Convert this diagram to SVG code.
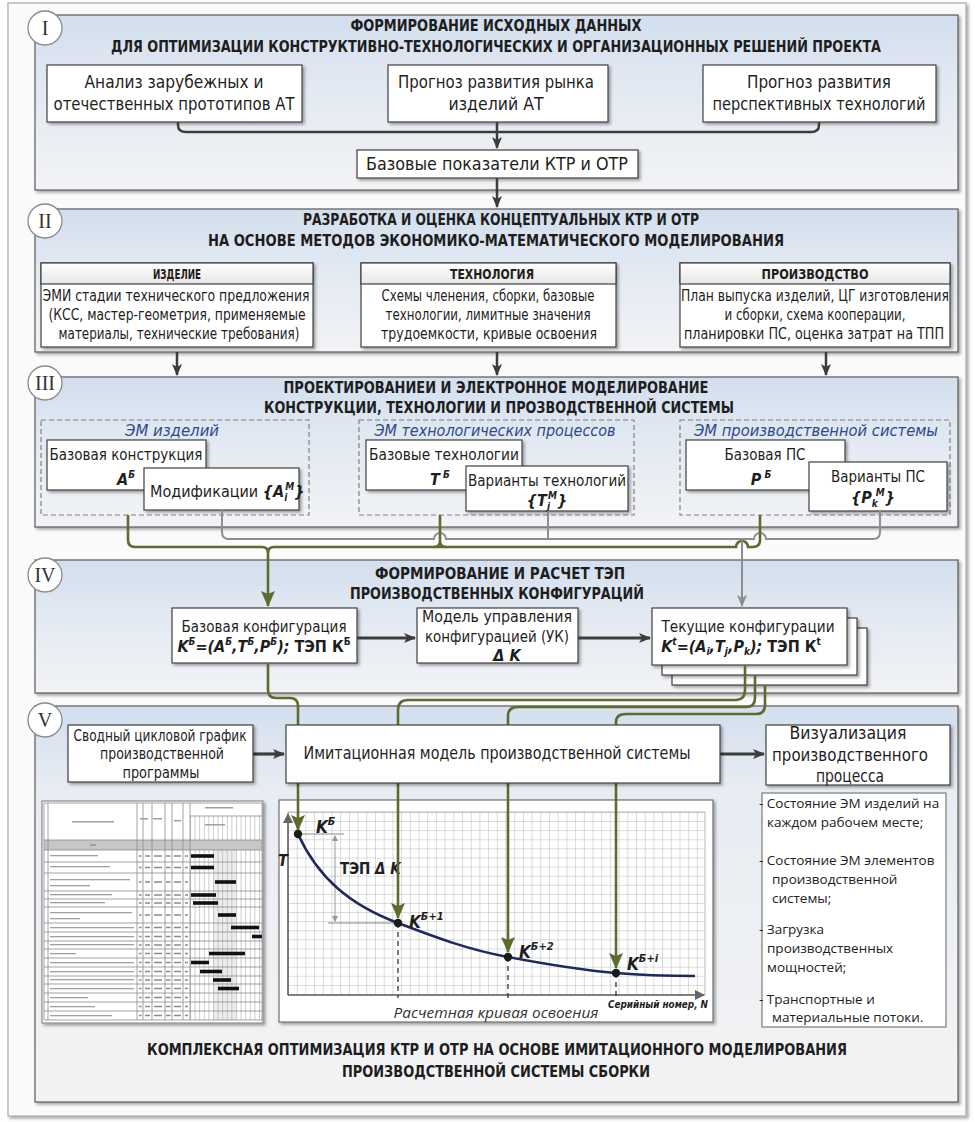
<svg xmlns="http://www.w3.org/2000/svg" width="975" height="1122" viewBox="0 0 975 1122">
<defs>
<linearGradient id="pg" x1="0" y1="0" x2="0" y2="1"><stop offset="0" stop-color="#d3dfee"/><stop offset="0.5" stop-color="#e5ebf3"/><stop offset="1" stop-color="#f2f3f5"/></linearGradient>
<linearGradient id="pg5" x1="0" y1="0" x2="0" y2="1"><stop offset="0" stop-color="#d3dfee"/><stop offset="0.22" stop-color="#e8edf3"/><stop offset="1" stop-color="#f3f3f4"/></linearGradient>
<linearGradient id="hg" x1="0" y1="0" x2="0" y2="1"><stop offset="0" stop-color="#ffffff"/><stop offset="1" stop-color="#e6e6e6"/></linearGradient>
<filter id="sh" x="-5%" y="-5%" width="115%" height="125%"><feDropShadow dx="2" dy="2" stdDeviation="1.4" flood-color="#000" flood-opacity="0.35"/></filter>
<pattern id="grid" width="8.7" height="9.1" patternUnits="userSpaceOnUse" x="288" y="812"><path d="M0,0V9.1M0,0H8.7" stroke="#9c9c9c" stroke-width="0.7" fill="none"/></pattern>
<pattern id="gg" width="4.6" height="10" patternUnits="userSpaceOnUse" x="190" y="0"><path d="M0.3,0V10" stroke="#b0b0b0" stroke-width="0.8" fill="none"/></pattern>
<marker id="ad" markerWidth="12" markerHeight="12" refX="11" refY="6" orient="auto" markerUnits="userSpaceOnUse"><path d="M0,1 L12,6 L0,11 L3,6 z" fill="#3c3c3c"/></marker>
<marker id="ag" markerWidth="16" markerHeight="14" refX="15" refY="7" orient="auto" markerUnits="userSpaceOnUse"><path d="M0,0 L16,7 L0,14 L3,7 z" fill="#5d6b2f"/></marker>
<marker id="ay" markerWidth="12" markerHeight="12" refX="11" refY="6" orient="auto" markerUnits="userSpaceOnUse"><path d="M0,1 L12,6 L0,11 L3,6 z" fill="#8e8e8e"/></marker>
<marker id="ax" markerWidth="10" markerHeight="10" refX="9" refY="5" orient="auto" markerUnits="userSpaceOnUse"><path d="M0,0 L10,5 L0,10 z" fill="#666"/></marker>
<marker id="am" markerWidth="6" markerHeight="6" refX="5" refY="3" orient="auto-start-reverse" markerUnits="userSpaceOnUse"><path d="M0,0 L6,3 L0,6 z" fill="#999"/></marker>
<path id="rm" d="M139,0h2.5M145,0h5M154,0h8M166,0h4.5M174,0h7M185,0h3" stroke="#8a8a8a" stroke-width="1.3" fill="none"/>
</defs>
<style>
.tx{font-family:"Liberation Sans Narrow","DejaVu Sans Condensed","Liberation Sans",Arial,sans-serif;fill:#1e1e1e}
.hd{font-weight:bold;font-size:15px}
.c{text-anchor:middle}
.bx{fill:#fff;stroke:#404040;stroke-width:1.2;filter:url(#sh)}
.pn{stroke:#5a5a5a;stroke-width:1.2;filter:url(#sh)}
.rc{fill:#fff;stroke:#8a8a8a;stroke-width:1.3}
.rt{font-family:"Liberation Serif",serif;font-size:20px;fill:#333;text-anchor:middle}
.dk{fill:none;stroke:#3c3c3c;stroke-width:2.5}
.dk3{fill:none;stroke:#3c3c3c;stroke-width:3.2}
.gr{fill:none;stroke:#5d6b2f;stroke-width:2.6}
.gy{fill:none;stroke:#8e8e8e;stroke-width:2}
.ds{fill:none;stroke:#808080;stroke-dasharray:5 3;stroke-width:1.2}
.f{font-weight:bold;font-style:italic}
.em{font-family:"Liberation Sans Narrow","DejaVu Sans Condensed","Liberation Sans",sans-serif;font-style:italic;font-size:16px;fill:#2f4a88;text-anchor:middle}
.ls{font-family:"Open Sans","Noto Sans",sans-serif;font-size:13.5px;fill:#222}
</style>

<rect x="8" y="3" width="958" height="1113" fill="#fafafa" stroke="#a8a8a8" stroke-width="1.2" filter="url(#sh)"/>

<!-- Section panels -->
<g id="panel-I"><rect class="pn" x="35" y="15" width="923" height="175" fill="url(#pg)"/>
<circle class="rc" cx="45" cy="28" r="17"/><text class="rt" x="45" y="35">I</text>
<text class="tx hd c" x="496" y="31" textLength="291" lengthAdjust="spacingAndGlyphs">ФОРМИРОВАНИЕ ИСХОДНЫХ ДАННЫХ</text>
<text class="tx hd c" x="496" y="52" textLength="770" lengthAdjust="spacingAndGlyphs">ДЛЯ ОПТИМИЗАЦИИ КОНСТРУКТИВНО-ТЕХНОЛОГИЧЕСКИХ И ОРГАНИЗАЦИОННЫХ РЕШЕНИЙ ПРОЕКТА</text></g>

<g id="panel-II"><rect class="pn" x="35" y="209" width="923" height="143" fill="url(#pg)"/>
<circle class="rc" cx="45" cy="221" r="17"/><text class="rt" x="45" y="228">II</text>
<text class="tx hd c" x="501" y="225" textLength="396" lengthAdjust="spacingAndGlyphs">РАЗРАБОТКА И ОЦЕНКА КОНЦЕПТУАЛЬНЫХ КТР И ОТР</text>
<text class="tx hd c" x="496" y="246" textLength="576" lengthAdjust="spacingAndGlyphs">НА ОСНОВЕ МЕТОДОВ ЭКОНОМИКО-МАТЕМАТИЧЕСКОГО МОДЕЛИРОВАНИЯ</text></g>

<g id="panel-III"><rect class="pn" x="35" y="377" width="923" height="150" fill="url(#pg)"/>
<circle class="rc" cx="45" cy="383" r="17"/><text class="rt" x="45" y="390">III</text>
<text class="tx hd c" x="496" y="393" textLength="425" lengthAdjust="spacingAndGlyphs">ПРОЕКТИРОВАНИЕИ И ЭЛЕКТРОННОЕ МОДЕЛИРОВАНИЕ</text>
<text class="tx hd c" x="499" y="413" textLength="470" lengthAdjust="spacingAndGlyphs">КОНСТРУКЦИИ, ТЕХНОЛОГИИ И ПРОЗВОДСТВЕННОЙ СИСТЕМЫ</text></g>

<g id="panel-IV"><rect class="pn" x="35" y="560" width="923" height="133" fill="url(#pg)"/>
<circle class="rc" cx="45" cy="575" r="17"/><text class="rt" x="45" y="582">IV</text>
<text class="tx hd c" x="500" y="579" textLength="250" lengthAdjust="spacingAndGlyphs">ФОРМИРОВАНИЕ И РАСЧЕТ ТЭП</text>
<text class="tx hd c" x="497" y="599" textLength="294" lengthAdjust="spacingAndGlyphs">ПРОИЗВОДСТВЕННЫХ КОНФИГУРАЦИЙ</text></g>

<g id="panel-V"><rect class="pn" x="35" y="706" width="923" height="396" fill="url(#pg5)"/>
<circle class="rc" cx="45" cy="720" r="17"/><text class="rt" x="45" y="727">V</text>
<text class="tx hd c" x="497" y="1055" textLength="700" lengthAdjust="spacingAndGlyphs">КОМПЛЕКСНАЯ ОПТИМИЗАЦИЯ КТР И ОТР НА ОСНОВЕ ИМИТАЦИОННОГО МОДЕЛИРОВАНИЯ</text>
<text class="tx hd c" x="496" y="1077" textLength="308" lengthAdjust="spacingAndGlyphs">ПРОИЗВОДСТВЕННОЙ СИСТЕМЫ СБОРКИ</text></g>

<!-- Section I nodes -->
<g id="n-analiz"><rect class="bx" x="47" y="65" width="255" height="57"/>
<text class="tx c" x="174" y="88" font-size="17" textLength="179" lengthAdjust="spacingAndGlyphs">Анализ зарубежных и</text>
<text class="tx c" x="174" y="110" font-size="17" textLength="241" lengthAdjust="spacingAndGlyphs">отечественных прототипов АТ</text></g>
<g id="n-rynok"><rect class="bx" x="388" y="65" width="220" height="57"/>
<text class="tx c" x="496" y="88" font-size="17" textLength="196" lengthAdjust="spacingAndGlyphs">Прогноз развития рынка</text>
<text class="tx c" x="496" y="110" font-size="17" textLength="95" lengthAdjust="spacingAndGlyphs">изделий АТ</text></g>
<g id="n-tech"><rect class="bx" x="703" y="65" width="233" height="57"/>
<text class="tx c" x="819" y="88" font-size="17" textLength="144" lengthAdjust="spacingAndGlyphs">Прогноз развития</text>
<text class="tx c" x="819" y="110" font-size="17" textLength="213" lengthAdjust="spacingAndGlyphs">перспективных технологий</text></g>
<g id="n-bazpok"><rect class="bx" x="357" y="150" width="281" height="28"/>
<text class="tx c" x="497" y="170" font-size="17" textLength="262" lengthAdjust="spacingAndGlyphs">Базовые показатели КТР и ОТР</text></g>

<!-- Section II nodes -->
<g id="n-izdelie"><rect class="bx" x="41" y="263" width="272" height="84"/>
<rect x="41" y="263" width="272" height="21" fill="url(#hg)" stroke="#404040" stroke-width="1.2"/>
<text class="tx c" x="177" y="279" font-size="14" font-weight="bold" textLength="48" lengthAdjust="spacingAndGlyphs">ИЗДЕЛИЕ</text>
<text class="tx c" x="176" y="301" font-size="15" textLength="267" lengthAdjust="spacingAndGlyphs">ЭМИ стадии технического предложения</text>
<text class="tx c" x="177" y="320" font-size="15" textLength="257" lengthAdjust="spacingAndGlyphs">(КСС, мастер-геометрия, применяемые</text>
<text class="tx c" x="179" y="339" font-size="15" textLength="241" lengthAdjust="spacingAndGlyphs">материалы, технические требования)</text></g>
<g id="n-tehnologia"><rect class="bx" x="361" y="263" width="255" height="84"/>
<rect x="361" y="263" width="255" height="21" fill="url(#hg)" stroke="#404040" stroke-width="1.2"/>
<text class="tx c" x="492" y="279" font-size="14" font-weight="bold" textLength="84" lengthAdjust="spacingAndGlyphs">ТЕХНОЛОГИЯ</text>
<text class="tx c" x="488" y="301" font-size="15" textLength="213" lengthAdjust="spacingAndGlyphs">Схемы членения, сборки, базовые</text>
<text class="tx c" x="488" y="320" font-size="15" textLength="205" lengthAdjust="spacingAndGlyphs">технологии, лимитные значения</text>
<text class="tx c" x="489" y="339" font-size="15" textLength="216" lengthAdjust="spacingAndGlyphs">трудоемкости, кривые освоения</text></g>
<g id="n-proizvodstvo"><rect class="bx" x="680" y="263" width="270" height="84"/>
<rect x="680" y="263" width="270" height="21" fill="url(#hg)" stroke="#404040" stroke-width="1.2"/>
<text class="tx c" x="815" y="279" font-size="14" font-weight="bold" textLength="107" lengthAdjust="spacingAndGlyphs">ПРОИЗВОДСТВО</text>
<text class="tx c" x="815" y="301" font-size="15" textLength="268" lengthAdjust="spacingAndGlyphs">План выпуска изделий, ЦГ изготовления</text>
<text class="tx c" x="815" y="320" font-size="15" textLength="181" lengthAdjust="spacingAndGlyphs">и сборки,  схема кооперации,</text>
<text class="tx c" x="814" y="339" font-size="15" textLength="260" lengthAdjust="spacingAndGlyphs">планировки ПС, оценка затрат на ТПП</text></g>

<!-- Section III nodes -->
<g id="n-em-izdeliy"><rect class="ds" x="41" y="420" width="268" height="95"/>
<text class="em" x="172" y="436" textLength="94" lengthAdjust="spacingAndGlyphs">ЭМ изделий</text>
<rect class="bx" x="47" y="440" width="159" height="50"/>
<text class="tx c" x="126" y="460" font-size="16" textLength="153" lengthAdjust="spacingAndGlyphs">Базовая конструкция</text>
<text class="tx c" x="126" y="485" font-size="16"><tspan class="f">A</tspan><tspan class="f" font-size="10" dy="-7">Б</tspan></text>
<rect class="bx" x="144" y="468" width="155" height="42"/>
<text class="tx" x="150" y="497" font-size="16">Модификации <tspan class="f">{A</tspan><tspan class="f" font-size="10" dy="4">i</tspan><tspan class="f" font-size="10" dx="-2" dy="-11">M</tspan><tspan class="f" dy="7">}</tspan></text></g>

<g id="n-em-tp"><rect class="ds" x="359" y="420" width="275" height="95"/>
<text class="em" x="495" y="436" textLength="241" lengthAdjust="spacingAndGlyphs">ЭМ технологических процессов</text>
<rect class="bx" x="366" y="440" width="156" height="50"/>
<text class="tx c" x="444" y="460" font-size="16" textLength="150" lengthAdjust="spacingAndGlyphs">Базовые технологии</text>
<text class="tx c" x="440" y="485" font-size="16"><tspan class="f">T</tspan><tspan class="f" font-size="10" dy="-7"> Б</tspan></text>
<rect class="bx" x="466" y="466" width="162" height="45"/>
<text class="tx c" x="547" y="486" font-size="16" textLength="158" lengthAdjust="spacingAndGlyphs">Варианты технологий</text>
<text class="tx c" x="547" y="506" font-size="16"><tspan class="f">{T</tspan><tspan class="f" font-size="10" dy="4">j</tspan><tspan class="f" font-size="10" dx="-2" dy="-11">M</tspan><tspan class="f" dy="7">}</tspan></text></g>

<g id="n-em-ps"><rect class="ds" x="680" y="420" width="270" height="95"/>
<text class="em" x="816" y="436" textLength="244" lengthAdjust="spacingAndGlyphs">ЭМ производственной системы</text>
<rect class="bx" x="686" y="440" width="159" height="50"/>
<text class="tx c" x="765" y="460" font-size="16" textLength="81" lengthAdjust="spacingAndGlyphs">Базовая ПС</text>
<text class="tx c" x="761" y="485" font-size="16"><tspan class="f">P</tspan><tspan class="f" font-size="10" dy="-7"> Б</tspan></text>
<rect class="bx" x="809" y="462" width="138" height="49"/>
<text class="tx c" x="878" y="482" font-size="16" textLength="94" lengthAdjust="spacingAndGlyphs">Варианты ПС</text>
<text class="tx c" x="873" y="503" font-size="16"><tspan class="f">{P</tspan><tspan class="f" font-size="10" dy="4">k</tspan><tspan class="f" font-size="10" dx="-2" dy="-11">M</tspan><tspan class="f" dy="7">}</tspan></text></g>

<!-- Section IV nodes -->
<g id="n-baz-konf"><rect class="bx" x="172" y="608" width="185" height="55"/>
<text class="tx c" x="264" y="632" font-size="16" textLength="165" lengthAdjust="spacingAndGlyphs">Базовая конфигурация</text>
<text class="tx c" x="264" y="652" font-size="16"><tspan class="f">K</tspan><tspan class="f" font-size="10" dy="-7">Б</tspan><tspan class="f" dy="7">=(A</tspan><tspan class="f" font-size="10" dy="-7">Б</tspan><tspan class="f" dy="7">,T</tspan><tspan class="f" font-size="10" dy="-7">Б</tspan><tspan class="f" dy="7">,P</tspan><tspan class="f" font-size="10" dy="-7">Б</tspan><tspan class="f" dy="7">); </tspan><tspan font-weight="bold">ТЭП К</tspan><tspan font-weight="bold" font-size="10" dy="-7">Б</tspan></text></g>
<g id="n-uk"><rect class="bx" x="417" y="608" width="161" height="55"/>
<text class="tx c" x="497" y="622" font-size="16" textLength="150" lengthAdjust="spacingAndGlyphs">Модель управления</text>
<text class="tx c" x="497" y="642" font-size="16" textLength="144" lengthAdjust="spacingAndGlyphs">конфигурацией (УК)</text>
<text class="tx c f" x="507" y="661" font-size="16">Δ K</text></g>
<g id="n-tek-konf"><rect class="bx" x="672" y="628" width="195" height="57"/>
<rect class="bx" x="662" y="618" width="195" height="57"/>
<rect class="bx" x="652" y="608" width="195" height="57"/>
<text class="tx c" x="748" y="632" font-size="16" textLength="173" lengthAdjust="spacingAndGlyphs">Текущие конфигурации</text>
<text class="tx c" x="741" y="652" font-size="16"><tspan class="f">K</tspan><tspan class="f" font-size="10" dy="-7">t</tspan><tspan class="f" dy="7">=(A</tspan><tspan class="f" font-size="10" dy="3">i</tspan><tspan class="f" dy="-3">,T</tspan><tspan class="f" font-size="10" dy="3">j</tspan><tspan class="f" dy="-3">,P</tspan><tspan class="f" font-size="10" dy="3">k</tspan><tspan class="f" dy="-3">); </tspan><tspan font-weight="bold">ТЭП К</tspan><tspan font-weight="bold" font-size="10" dy="-7">t</tspan></text></g>

<!-- Section V: gantt -->
<g id="n-gantt">
<rect x="42" y="801" width="221" height="222" fill="#fff" stroke="#8c8c8c" stroke-width="1.2" filter="url(#sh)"/>
<rect x="213" y="850" width="23" height="170" fill="#ececec"/>
<rect x="190" y="816" width="72" height="204" fill="url(#gg)"/>
<rect x="44" y="840" width="218" height="10" fill="#c6c6c6"/>
<path d="M44,803H262V1020H44Z M48,803V1020 M137,803V1020 M143,803V1020 M152,803V1020 M165,803V1020 M172,803V1020 M183,803V1020 M190,803V1020 M190,816H262 M44,840H262 M44,850H262 M44,862H262 M44,873H262 M44,891H262 M44,899H262 M44,907H262 M44,923H262 M44,932H262 M44,941H262 M44,949H262 M44,958H262 M44,967H262 M44,976H262 M44,984H262 M44,993H262 M44,1002H262 M44,1011H262" fill="none" stroke="#8a8a8a" stroke-width="0.8"/>
<g fill="#a0a0a0"><rect x="72" y="821" width="42" height="1.5"/><rect x="140" y="818" width="8" height="1.5"/><rect x="153" y="818" width="9" height="1.5"/><rect x="174" y="820" width="7" height="1.5"/><rect x="205" y="807" width="28" height="1.5"/><rect x="205" y="824" width="20" height="1.5"/><rect x="90" y="844" width="6" height="2"/>
<rect x="50" y="855" width="48" height="1.3"/><rect x="50" y="866" width="60" height="1.3"/><rect x="50" y="879" width="80" height="1.3"/><rect x="50" y="885" width="40" height="1.3"/><rect x="50" y="894" width="62" height="1.3"/><rect x="50" y="902" width="55" height="1.3"/><rect x="50" y="912" width="82" height="1.3"/><rect x="50" y="918" width="30" height="1.3"/><rect x="50" y="927" width="84" height="1.3"/><rect x="50" y="936" width="84" height="1.3"/><rect x="50" y="944" width="84" height="1.3"/><rect x="50" y="953" width="26" height="1.3"/><rect x="50" y="962" width="84" height="1.3"/><rect x="50" y="971" width="84" height="1.3"/><rect x="50" y="979" width="84" height="1.3"/><rect x="50" y="988" width="84" height="1.3"/><rect x="50" y="997" width="38" height="1.3"/><rect x="50" y="1006" width="45" height="1.3"/><rect x="50" y="1015" width="62" height="1.3"/></g>
<use href="#rm" y="856"/><use href="#rm" y="867.5"/><use href="#rm" y="882"/><use href="#rm" y="895"/><use href="#rm" y="903"/><use href="#rm" y="915"/><use href="#rm" y="927.5"/><use href="#rm" y="936.5"/><use href="#rm" y="945"/><use href="#rm" y="953.5"/><use href="#rm" y="962.5"/><use href="#rm" y="971.5"/><use href="#rm" y="980"/><use href="#rm" y="988.5"/><use href="#rm" y="997.5"/><use href="#rm" y="1006.5"/><use href="#rm" y="1015.5"/>
<g fill="#111"><rect x="191" y="854.2" width="23" height="3.6"/><rect x="191" y="865.7" width="23" height="3.6"/><rect x="215" y="880.2" width="21" height="3.6"/><rect x="191" y="893.2" width="25" height="3.6"/><rect x="193" y="901.2" width="25" height="3.6"/><rect x="218" y="913.2" width="18" height="3.6"/><rect x="231" y="925.7" width="28" height="3.6"/><rect x="252" y="934.7" width="10" height="3.6"/><rect x="209" y="951.7" width="36" height="3.6"/><rect x="191" y="960.7" width="18" height="3.6"/><rect x="200" y="969.7" width="22" height="3.6"/><rect x="213" y="978.2" width="18" height="3.6"/><rect x="218" y="986.7" width="21" height="3.6"/></g>
</g>

<!-- Section V: learning curve chart -->
<g id="n-curve">
<rect x="279" y="800" width="434" height="222" fill="#fff" stroke="#6e6e6e" stroke-width="1.2" filter="url(#sh)"/>
<rect x="288" y="812" width="417" height="183" fill="url(#grid)" stroke="#9c9c9c" stroke-width="0.7"/>
<path d="M288,995V814" stroke="#666" stroke-width="1.6" fill="none" marker-end="url(#ax)"/>
<path d="M288,995H704" stroke="#666" stroke-width="1.6" fill="none" marker-end="url(#ax)"/>
<path d="M398,923V998 M508,957V998 M616,973V998" stroke="#333" stroke-width="1.3" stroke-dasharray="5 4" fill="none"/>
<path d="M298,834H344 M328,923H398" stroke="#888" stroke-width="1" fill="none"/>
<path d="M335,836V921" stroke="#999" stroke-width="1" fill="none" marker-start="url(#am)" marker-end="url(#am)"/>
<path d="M298,834 C318,878 350,905 398,923 C440,939 470,950 508,957 C550,965 580,970 616,973 C650,976 675,976 695,976" stroke="#1f2a5c" stroke-width="2.6" fill="none"/>
<g fill="#1a1a1a"><circle cx="298" cy="834" r="4.2"/><circle cx="398" cy="923" r="4.2"/><circle cx="508" cy="957" r="4.2"/><circle cx="616" cy="973" r="4.2"/></g>
<text class="tx f" x="278" y="866" font-size="16">T</text>
<text class="tx" x="340" y="874" font-size="15" font-weight="bold">ТЭП <tspan class="f">Δ K</tspan></text>
<text class="tx f" x="316" y="833" font-size="17">K<tspan font-size="11" dy="-8">Б</tspan></text>
<text class="tx f" x="409" y="928" font-size="17">K<tspan font-size="11" dy="-8">Б+1</tspan></text>
<text class="tx f" x="519" y="958" font-size="17">K<tspan font-size="11" dy="-8">Б+2</tspan></text>
<text class="tx f" x="627" y="970" font-size="17">K<tspan font-size="11" dy="-8">Б+i</tspan></text>
<text class="tx f" x="608" y="1008" font-size="10.5" textLength="100" lengthAdjust="spacingAndGlyphs">Серийный номер, N</text>
<text x="496" y="1018" font-family="Open Sans, Noto Sans, sans-serif" font-style="italic" font-size="15" fill="#333" text-anchor="middle" textLength="205" lengthAdjust="spacingAndGlyphs">Расчетная кривая освоения</text>
</g>

<!-- Section V: list -->
<g id="n-list"><rect x="762" y="793" width="184" height="234" fill="#fff" stroke="#7a7a7a" stroke-width="1.2"/>
<text class="ls" x="759" y="808">- Состояние ЭМ изделий на</text>
<text class="ls" x="767" y="827">каждом рабочем месте;</text>
<text class="ls" x="759" y="865">- Состояние ЭМ элементов</text>
<text class="ls" x="772" y="884">производственной</text>
<text class="ls" x="772" y="903">системы;</text>
<text class="ls" x="759" y="934">- Загрузка</text>
<text class="ls" x="767" y="953">производственных</text>
<text class="ls" x="767" y="972">мощностей;</text>
<text class="ls" x="759" y="1004">- Транспортные и</text>
<text class="ls" x="772" y="1022">материальные потоки.</text></g>

<!-- Connectors -->
<g id="connectors">
<path class="dk" d="M178,122V125Q178,132 186,132H811Q819,132 819,125V122"/>
<path class="dk" d="M497,122V148" marker-end="url(#ad)"/>
<path class="dk" d="M497,178V207" marker-end="url(#ad)"/>
<path class="dk" d="M177,352V375" marker-end="url(#ad)"/>
<path class="dk" d="M497,352V375" marker-end="url(#ad)"/>
<path class="dk" d="M826,352V375" marker-end="url(#ad)"/>
<path class="gy" d="M222,510V532Q222,539 229,539H434a6,6 0 0 1 12,0H754a6,6 0 0 1 12,0H873Q880,539 880,532V511"/>
<path class="gy" d="M548,511V539"/>
<path class="gr" d="M128,515V540Q128,547 135,547H262Q268,547 268,553Q268,547 274,547H736a6,6 0 0 1 12,0H753Q760,547 760,540V515"/>
<path class="gr" d="M440,515V541Q440,547 434,547M440,541Q440,547 446,547"/>
<path class="gr" d="M268,553V606" marker-end="url(#ag)"/>
<path class="gy" d="M742,539V606" marker-end="url(#ay)"/>
<path class="dk3" d="M357,638H415" marker-end="url(#ad)"/>
<path class="dk3" d="M578,638H650" marker-end="url(#ad)"/>
<path class="gr" d="M268,663V690Q268,698 276,698H290Q298,698 298,706V725"/>
<path class="gr" d="M745,665V690Q745,700 735,700H408Q398,700 398,710V725"/>
<path class="gr" d="M755,675V698Q755,707 746,707H518Q508,707 508,716V725"/>
<path class="gr" d="M765,685V705Q765,714 756,714H626Q616,714 616,722V725"/>
<path class="gr" d="M298,783V830" marker-end="url(#ag)"/>
<path class="gr" d="M398,783V918" marker-end="url(#ag)"/>
<path class="gr" d="M508,783V952" marker-end="url(#ag)"/>
<path class="gr" d="M616,783V968" marker-end="url(#ag)"/>
<path class="dk3" d="M253,754H284" marker-end="url(#ad)"/>
<path class="dk3" d="M720,754H764" marker-end="url(#ad)"/>
</g>

<!-- Section V boxes (drawn over connectors) -->
<g id="n-svodny"><rect class="bx" x="68" y="725" width="185" height="57"/>
<text class="tx c" x="160" y="741" font-size="16" textLength="173" lengthAdjust="spacingAndGlyphs">Сводный цикловой график</text>
<text class="tx c" x="162" y="759" font-size="16" textLength="124" lengthAdjust="spacingAndGlyphs">производственной</text>
<text class="tx c" x="161" y="778" font-size="16" textLength="77" lengthAdjust="spacingAndGlyphs">программы</text></g>
<g id="n-imitac"><rect class="bx" x="286" y="725" width="434" height="58"/>
<text class="tx c" x="497" y="759" font-size="17" textLength="387" lengthAdjust="spacingAndGlyphs">Имитационная модель производственной системы</text></g>
<g id="n-vizual"><rect class="bx" x="766" y="725" width="184" height="60"/>
<text class="tx c" x="848" y="739" font-size="17" textLength="117" lengthAdjust="spacingAndGlyphs">Визуализация</text>
<text class="tx c" x="850" y="761" font-size="17" textLength="156" lengthAdjust="spacingAndGlyphs">производственного</text>
<text class="tx c" x="850" y="782" font-size="17" textLength="68" lengthAdjust="spacingAndGlyphs">процесса</text></g>
</svg>
